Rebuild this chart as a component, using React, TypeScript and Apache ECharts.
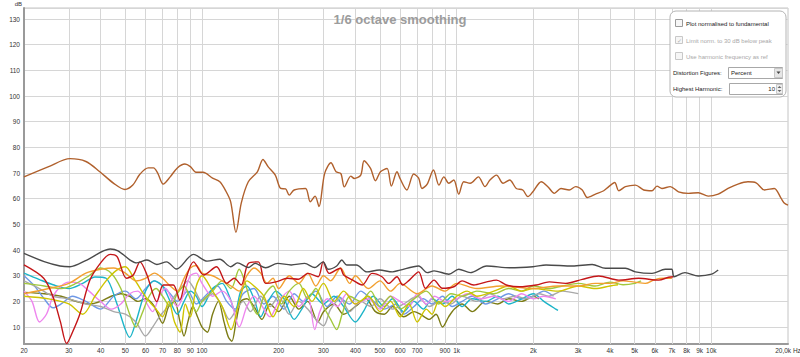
import React, { useEffect, useRef } from "react";
import * as echarts from "echarts";

const titleText = "1/6 octave smoothing";
const xTickValues = [20, 30, 40, 50, 60, 70, 80, 90, 100, 200, 300, 400, 500, 600, 700, 900, 1000, 2000, 3000, 4000, 5000, 6000, 7000, 8000, 9000, 10000, 20000];
const xGridValues = [30, 40, 50, 60, 70, 80, 90, 100, 200, 300, 400, 500, 600, 700, 800, 900, 1000, 2000, 3000, 4000, 5000, 6000, 7000, 8000, 9000, 10000];

const fundamental = [[20,68.5],[25,72.5],[30.3,75.6],[35,74.5],[39.7,70.5],[45,66],[49.8,63.6],[53.5,65.3],[57,69.5],[61.5,72],[64.5,72],[67,70],[70.4,65.7],[75,68.5],[80,72],[85.7,73.5],[90,72.5],[94.7,70.3],[101,70.3],[110,68],[117.5,66.6],[124,63],[129.6,58.8],[135.9,46.9],[142.6,58.3],[152,66.6],[165,70.5],[173.5,75.3],[182,72.4],[194,69.2],[203.7,64],[213,63.8],[220,61.4],[230,63.4],[255,64],[266,58.8],[278,61],[288,56.9],[303,69.8],[321,74],[336,70.5],[351,69.8],[362,64.6],[384,68.8],[396,67.9],[420,69.2],[433,74.8],[459,71.8],[480,67],[502,70.5],[533,71.8],[554,64.9],[583,70.5],[599,67.9],[637,63.4],[678,69.6],[709,68],[731,64],[766,65.7],[811,71.2],[852,65.3],[891,68.5],[932,66],[974,67.3],[1019,61.8],[1066,66.6],[1131,66],[1217,68.5],[1292,64.7],[1351,67.3],[1434,69.2],[1521,66],[1615,67.3],[1714,64],[1818,63.4],[1904,60.8],[1992,62.7],[2149,66.6],[2280,64.7],[2419,62.1],[2568,64],[2766,63.4],[2935,64.7],[3113,63.4],[3257,60.5],[3509,61.8],[3779,63.1],[3955,64.7],[4175,66.3],[4331,63.1],[4598,64.7],[5034,65.3],[5426,63.4],[5848,63.1],[6117,64.9],[6400,64],[6898,64.7],[7430,62.7],[8130,62.1],[8890,62.3],[9720,61],[10640,61.8],[11630,64],[12720,65.7],[13920,66.6],[14990,66.2],[16160,63.4],[17670,64],[18800,60.1],[19380,58.2],[20000,57.5]];

const thd = [[20,38.7],[24,35.5],[27.7,33.8],[30.3,33.5],[35.3,36.1],[43.6,40.4],[46.8,39.7],[52.2,36.1],[55.5,35],[60.8,36.1],[66.5,34.4],[72.6,35.4],[79.4,32.6],[92.6,38.3],[104.7,35.7],[117.5,36.4],[129.6,33.5],[137.8,35],[151.9,33.2],[161.7,34.8],[177.8,33.1],[198.2,34.8],[224,34.2],[253,34.8],[277,33.2],[299,35.4],[313,32.5],[338,33.8],[354,36.1],[370,34.2],[404,34.2],[444,31.5],[497,32.2],[560,31.5],[599,32.2],[709,33.8],[766,31.2],[815,31.9],[932,30.6],[1019,32.5],[1131,31.2],[1312,33.8],[1615,33.1],[1992,33.5],[2244,34.2],[2851,33.8],[3406,34.4],[3838,32.9],[4598,32.9],[5034,31.5],[5848,30.9],[6590,32.5],[6990,32.5],[7140,29.6],[7880,31.2],[8890,29.9],[10030,30.6],[10640,32.2]];

const harmRed = [[20,34.2],[23.9,29],[26,21.8],[27.8,12],[29.4,3.6],[31,8],[33.2,15.3],[36.3,28.3],[40,35],[43.6,38.3],[46.4,37.4],[50.5,29],[53.7,30.3],[57.1,35.4],[60.8,30.3],[66.5,19.9],[70.5,26.4],[77.1,26.4],[81.8,20.5],[86,28],[92.6,35.4],[101.6,30.3],[114,33.5],[125,27],[133.8,29],[142.6,26.4],[152,34.8],[166.5,35.4],[177.6,27],[195,27.6],[217,29],[239,28.6],[261,30.9],[286,29.6],[299,35.4],[316,30.9],[349,32.9],[360,30.3],[391,28.3],[426,26.4],[465,30.9],[509,29.6],[541,27],[583,29.6],[614,26.4],[652,28.3],[709,31.5],[754,25.1],[815,28.3],[878,25.1],[974,25.7],[1050,28],[1166,26.4],[1312,27.6],[1434,28.3],[1567,26.4],[1765,25.7],[2052,26.4],[2311,27.6],[2680,27],[3113,28.6],[3613,29.9],[4331,28.3],[5185,29],[6215,28.3],[6790,29.4],[7100,29.6]];

const harmOrange = [[20,23],[25,25],[30,27],[35,31],[40,32.5],[45,33],[50,31],[55,28],[60,29],[65,31],[70,29],[75,26],[80,24],[85,29],[90,33],[95,34],[100,31],[110,30],[120,28],[130,26],[140,24],[150,30],[160,33],[170,31],[180,27],[190,29],[200,25],[220,30],[240,27],[260,31],[280,26],[300,30],[320,28],[350,33],[380,27],[400,30],[450,25],[500,28],[550,24],[600,27],[700,23],[800,26],[900,24],[1000,27],[1200,25],[1500,26],[2000,25],[2500,26],[3000,26],[3500,27],[4000,27],[4500,28],[5000,27.5],[5500,27],[6000,28.5],[6500,29],[7000,29]];

const harmYellow = [[20,22],[25,21],[30,19],[34,15],[38,22],[42,28],[46,32],[50,33.5],[54,29],[58,24],[62,20],[66,17],[70,14],[74,20],[78,12],[82,8],[86,19],[90,14],[95,26],[100,30],[110,24],[120,18],[130,9],[140,20],[150,28],[160,26],[175,22],[190,14],[210,22],[230,18],[250,25],[270,20],[300,27],[330,20],[360,24],[400,19],[450,22],[500,16],[550,20],[600,14],[650,19],[700,12],[760,17],[800,15],[850,20],[900,18],[1000,22],[1100,24],[1200,22],[1400,24],[1600,26],[1800,24],[2000,25],[2500,24],[3000,26],[3500,25],[4000,26],[4300,26.5]];

const harmGreen = [[20,27],[24,26],[28,25],[32,27],[36,30],[40,33],[44,31],[48,25],[52,15],[55,10],[58,15],[62,22],[66,25],[70,22],[75,18],[80,23],[85,26],[90,21],[95,16],[100,20],[110,24],[120,28],[130,25],[140,32.5],[148,27],[155,20],[165,15],[175,22],[190,26],[205,19],[220,24],[240,27],[260,21],[280,25],[300,18],[320,13],[338,9],[355,15],[380,22],[420,20],[460,24],[500,18],[550,22],[600,17],[680,21],[760,24],[850,19],[950,23],[1050,22],[1200,24],[1400,23],[1600,25],[1800,24],[2000,26],[2300,25],[2600,26],[3000,27],[3500,26],[4000,27.5],[4500,26.5],[5000,27],[5300,28]];

const harmPink = [[20,24],[21.5,20],[23,12],[24.5,15],[26,22],[28,26],[30,27.5],[33,27],[36,24],[40,20],[44,17],[48,19],[52,23],[56,24],[60,20],[64,16],[68,22],[72,25],[76,21],[80,18],[85,23],[90,30],[95,31],[100,27],[110,22],[120,24],[130,20],[140,10],[150,18],[160,22],[170,19],[185,14],[200,20],[220,24],[240,18],[260,22],[277,9],[290,16],[310,21],[340,18],[370,23],[400,19],[450,21],[500,17],[550,22],[600,20],[650,18],[700,23],[760,19],[820,22],[900,20],[1000,21],[1100,23],[1250,21],[1400,22],[1600,20],[1800,23],[2000,21],[2200,22],[2450,21]];

const harmGray = [[20,28],[23,25],[26,22],[30,21],[35,19],[40,18],[45,16],[50,15],[55,12],[60,6.5],[64,10],[68,14],[72,17],[78,22],[84,26],[88,28],[93,25],[100,20],[110,23],[120,18],[128,13],[135,16],[145,20],[155,16],[170,22],[185,18],[200,22],[220,15],[240,20],[260,17],[280,13],[300,10.5],[320,17],[350,21],[380,16],[420,20],[460,18],[500,21],[560,17],[620,19],[700,22],[780,18],[860,20],[950,19],[1050,22],[1200,20],[1350,23],[1500,21],[1700,22],[1900,21],[2100,23],[2300,22],[2600,24],[3000,23]];

const harmCyan = [[20,31],[23,28.5],[26,26.5],[30,25],[34,27],[38,29.5],[42,29],[46,20],[50,9],[52,6],[55,12],[60,24],[65,28],[70,26],[75,20],[80,15],[85,20],[90,24],[95,22],[100,18],[110,25],[120,27],[128,22],[135,16],[142,24],[150,26],[160,21],[170,14],[180,19],[195,24],[210,21],[230,13],[250,18],[270,23],[300,19],[330,22],[360,18],[400,12],[430,16],[470,22],[520,18],[560,21],[620,16],[680,20],[740,17],[800,21],[880,19],[960,22],[1050,18],[1150,21],[1300,20],[1450,22],[1600,19],[1800,21],[2000,23],[2200,20],[2450,17],[2500,16.5]];

const harmBlue = [[20,30],[22,26],[24,21],[26,17.5],[28,19],[31,22],[35,20],[40,17],[45,22],[50,24],[55,21],[60,25],[65,28],[70,26],[75,23],[80,20],[88,24],[95,19],[105,23],[115,26],[125,20],[135,17],[145,23],[160,25],[175,19],[190,22],[210,17],[230,23],[250,20],[280,24],[310,18],[340,22],[380,19],[420,24],[460,21],[520,17],[580,19],[620,15],[680,18],[740,21],[800,19],[880,22],[960,18],[1050,20],[1150,22],[1300,19],[1450,21],[1600,23],[1800,21],[2000,22],[2200,24],[2400,22]];

const harmOlive = [[20,23.5],[24,23],[28,22],[32,20],[36,19],[40,20],[44,22],[48,23],[52,22],[56,20],[60,21],[65,18],[70,11.5],[74,18],[78,20],[82,12],[85,6.5],[88,12],[92,18],[96,14],[100,10],[105,8],[110,15],[116,20],[122,12],[127,6],[131,4.5],[136,12],[142,20],[150,21],[160,18],[172,13],[185,19],[200,16],[220,22],[240,17],[260,20],[285,12],[300,16],[330,19],[360,15],[400,18],[440,21],[480,16],[520,15],[560,18],[620,14],[680,16],[720,15],[780,13],[830,15],[880,10],[930,14],[980,17],[1050,19],[1150,16],[1300,20],[1450,19],[1600,21],[1800,20],[2000,22],[2100,21]];

const seriesList = [
  { name: "H10", data: harmOlive, color: "#7c7c16" },
  { name: "H9", data: harmBlue, color: "#6e98e6" },
  { name: "H8", data: harmCyan, color: "#1cb4c8" },
  { name: "H7", data: harmGray, color: "#a8a8a8" },
  { name: "H6", data: harmPink, color: "#ee86ee" },
  { name: "H5", data: harmGreen, color: "#a2c83c" },
  { name: "H4", data: harmYellow, color: "#cec400" },
  { name: "H3", data: harmOrange, color: "#f2a030" },
  { name: "H2", data: harmRed, color: "#c41618" },
  { name: "THD", data: thd, color: "#4a4a4a" },
  { name: "Fundamental", data: fundamental, color: "#b0602c" },
];

function fmtFreq(v: number): string {
  if (v >= 20000) return "20,0k Hz";
  if (v >= 1000) return v / 1000 + "k";
  return String(v);
}

export default function App() {
  const ref = useRef<HTMLDivElement>(null);
  useEffect(() => {
    if (!ref.current) return;
    const chart = echarts.init(ref.current, null, { renderer: "svg" });
    const font = "'Liberation Sans', Arial, sans-serif";
    const txt = (x: number, y: number, text: string, fill: string, align = "left") => ({
      type: "text",
      x,
      y,
      style: { text, fill, fontSize: 6, fontFamily: font, align, verticalAlign: "middle" },
    });
    const box = (x: number, y: number, w: number, h: number, stroke: string, fill = "#f6f6f6") => ({
      type: "rect",
      shape: { x, y, width: w, height: h },
      style: { fill, stroke, lineWidth: 1 },
    });
    const option: any = {
      animation: false,
      backgroundColor: "#ffffff",
      title: {
        text: titleText,
        left: "center",
        top: 8,
        textStyle: { color: "#9c9c9c", fontSize: 13, fontWeight: "bold", fontFamily: font },
      },
      grid: { left: 24, right: 12, top: 8, bottom: 13, show: true, borderColor: "#c4c4c4", borderWidth: 1 },
      xAxis: {
        type: "log",
        logBase: 10,
        min: 20,
        max: 20000,
        axisLine: { show: true, lineStyle: { color: "#9a9a9a", width: 2 } },
        axisTick: { show: false },
        axisLabel: { show: false },
        splitLine: { show: false },
        minorSplitLine: { show: false },
      },
      yAxis: {
        type: "value",
        min: 3.4,
        max: 134.3,
        splitNumber: 13,
        name: "dB",
        nameLocation: "end",
        nameGap: 1,
        nameTextStyle: { fontSize: 6, color: "#333", fontFamily: font, align: "right", padding: [0, 2, 0, 0] },
        axisLine: { show: true, lineStyle: { color: "#9a9a9a", width: 2 } },
        axisTick: { show: false },
        axisLabel: {
          fontSize: 6.5,
          color: "#333",
          fontFamily: font,
          margin: 4,
          showMinLabel: false,
          showMaxLabel: false,
          formatter: (v: number) => (Math.abs(v - Math.round(v / 10) * 10) < 1e-6 ? String(Math.round(v)) : ""),
        },
        splitLine: { show: true, lineStyle: { color: "#d6d6d6", width: 1 } },
      },
      series: [
        {
          type: "line",
          name: "grid",
          data: [],
          z: 1,
          silent: true,
          markLine: {
            silent: true,
            symbol: ["none", "none"],
            z: 1,
            animation: false,
            lineStyle: { color: "#d6d6d6", width: 1, type: "solid" },
            label: { show: false },
            emphasis: { disabled: true },
            data: xGridValues.map((v) => ({ xAxis: v })),
          },
        },
        {
          type: "line",
          name: "ticks",
          data: [],
          z: 1,
          silent: true,
          markLine: {
            silent: true,
            symbol: ["none", "none"],
            z: 1,
            animation: false,
            lineStyle: { color: "rgba(0,0,0,0)", width: 0 },
            label: {
              show: true,
              position: "start",
              distance: 3,
              color: "#333",
              fontSize: 6.5,
              fontFamily: font,
              formatter: (p: any) => fmtFreq(p.value),
            },
            emphasis: { disabled: true },
            data: xTickValues.map((v) => ({ xAxis: v })),
          },
        },
        ...seriesList.map((s) => ({
          type: "line",
          name: s.name,
          data: s.data,
          showSymbol: false,
          symbol: "none",
          smooth: 0.3,
          z: 3,
          lineStyle: { color: s.color, width: 1.4 },
          itemStyle: { color: s.color },
        })),
      ],
      graphic: [
        {
          type: "rect",
          shape: { x: 670, y: 11, width: 116, height: 86, r: 6 },
          style: { fill: "#ffffff", stroke: "#b4b4b4", lineWidth: 1 },
          z: 10,
        },
        { ...box(675.5, 19.5, 7, 7, "#9a9a9a"), z: 11 },
        { ...txt(686, 23.5, "Plot normalised to fundamental", "#222"), z: 11 },
        { ...box(675.5, 36.5, 7, 7, "#c8c8c8"), z: 11 },
        { ...txt(676.5, 40.5, "✓", "#b0b0b0"), z: 12 },
        { ...txt(686, 40.5, "Limit norm. to 30 dB below peak", "#a8a8a8"), z: 11 },
        { ...box(675.5, 52.5, 7, 7, "#c8c8c8"), z: 11 },
        { ...txt(686, 56.5, "Use harmonic frequency as ref", "#a8a8a8"), z: 11 },
        { ...txt(673, 73, "Distortion Figures:", "#222"), z: 11 },
        { ...box(728.5, 67.5, 54, 11, "#a8a8a8", "#ffffff"), z: 11 },
        { ...txt(731, 73, "Percent", "#222"), z: 11 },
        { ...box(774.5, 68.5, 8, 9, "#c8c8c8", "#e6e6e6"), z: 12 },
        {
          type: "polygon",
          shape: { points: [[776.5, 71.5], [780.5, 71.5], [778.5, 74]] },
          style: { fill: "#444" },
          z: 13,
        },
        { ...txt(673, 89, "Highest Harmonic:", "#222"), z: 11 },
        { ...box(729.5, 83.5, 53, 11, "#a8a8a8", "#ffffff"), z: 11 },
        { ...txt(775, 89, "10", "#222", "right"), z: 11 },
        { ...box(776.5, 84.5, 6, 9, "#c8c8c8", "#eeeeee"), z: 12 },
        {
          type: "polygon",
          shape: { points: [[777.5, 88], [781.5, 88], [779.5, 86]] },
          style: { fill: "#666" },
          z: 13,
        },
        {
          type: "polygon",
          shape: { points: [[777.5, 90], [781.5, 90], [779.5, 92]] },
          style: { fill: "#666" },
          z: 13,
        },
      ],
    };
    chart.setOption(option);
    return () => chart.dispose();
  }, []);
  return <div ref={ref} style={{ width: 800, height: 357, position: "absolute", left: 0, top: 0 }} />;
}
